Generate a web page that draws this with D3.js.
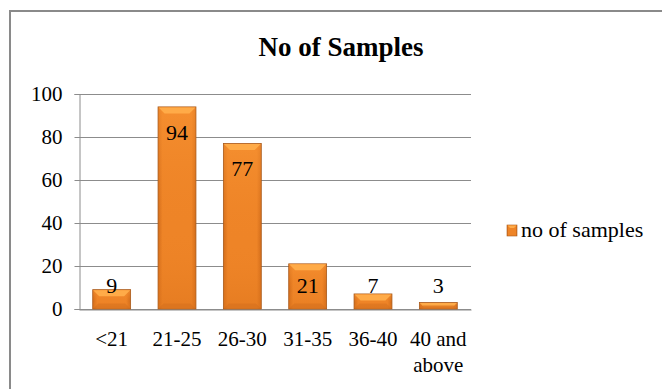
<!DOCTYPE html>
<html>
<head>
<meta charset="utf-8">
<script src="https://cdn.jsdelivr.net/npm/d3@7"></script>
</head>
<body style="margin:0;padding:0;background:#fff">
<svg id="chart" width="662" height="389" style="display:block"></svg>
<script>
// Age groups and number of samples in each
const categories = ["<21", "21-25", "26-30", "31-35", "36-40", "40 and above"];
const samples = [9, 94, 77, 21, 7, 3];
const yTicks = [0, 20, 40, 60, 80, 100];
const seriesName = "no of samples";
const chartTitle = "No of Samples";

const FONT = '"Liberation Serif"';
const svg = d3.select("#chart");
const W = 662, H = 389;
const plot = { left: 79, right: 471, top: 94, bottom: 309 };

// Gradients for the bevelled orange bars
const defs = svg.append("defs");
const side = defs.append("linearGradient").attr("id", "barSide")
  .attr("x1", 0).attr("x2", 1).attr("y1", 0).attr("y2", 0);
side.append("stop").attr("offset", "0").attr("stop-color", "#d26c1a");
side.append("stop").attr("offset", "0.12").attr("stop-color", "#ee8427");
side.append("stop").attr("offset", "0.88").attr("stop-color", "#ee8427");
side.append("stop").attr("offset", "1").attr("stop-color", "#d26c1a");
const vert = defs.append("linearGradient").attr("id", "barVert")
  .attr("x1", 0).attr("x2", 0).attr("y1", 0).attr("y2", 1);
vert.append("stop").attr("offset", "0").attr("stop-color", "#f99534").attr("stop-opacity", 0.6);
vert.append("stop").attr("offset", "0.6").attr("stop-color", "#ef8426").attr("stop-opacity", 0);
vert.append("stop").attr("offset", "1").attr("stop-color", "#dd741c").attr("stop-opacity", 0.5);

// Chart frame
svg.append("rect")
  .attr("x", 10).attr("y", 11)
  .attr("width", W + 20).attr("height", H + 20)
  .attr("fill", "#fff").attr("stroke", "#8a8a8a").attr("stroke-width", 2);

// Title
svg.append("text")
  .attr("x", 341).attr("y", 56)
  .attr("text-anchor", "middle")
  .attr("font-size", 27).attr("font-weight", "bold")
  .style("font-family", FONT)
  .attr("fill", "#000")
  .text(chartTitle);

const x = d3.scaleBand()
  .domain(categories)
  .range([plot.left, plot.right])
  .paddingInner(0.42).paddingOuter(0.21);

const y = d3.scaleLinear()
  .domain([0, 100])
  .range([plot.bottom, plot.top]);

// Horizontal gridlines
svg.append("g")
  .selectAll("line")
  .data(yTicks)
  .join("line")
  .attr("x1", plot.left).attr("x2", plot.right)
  .attr("y1", d => Math.round(y(d)) + 0.5).attr("y2", d => Math.round(y(d)) + 0.5)
  .attr("stroke", "#8c8c8c").attr("stroke-width", 1);

// Y axis
const yAxis = svg.append("g")
  .attr("transform", `translate(${plot.left + 0.5},0)`)
  .call(d3.axisLeft(y).tickValues(yTicks).tickSize(5).tickPadding(12))
  .attr("font-family", null).attr("font-size", null);
yAxis.select(".domain").attr("stroke", "#8c8c8c");
yAxis.selectAll(".tick line").attr("stroke", "#8c8c8c");
yAxis.selectAll(".tick text")
  .attr("font-size", 21)
  .style("font-family", FONT)
  .attr("fill", "#000");

// X axis
const xAxis = svg.append("g")
  .attr("transform", `translate(0,${Math.round(plot.bottom) + 0.5})`)
  .call(d3.axisBottom(x).tickSize(0).tickPadding(0))
  .attr("font-family", null).attr("font-size", null);
xAxis.select(".domain").attr("stroke", "#8c8c8c");
xAxis.selectAll(".tick text").remove();
xAxis.selectAll(".tick").each(function (d) {
  const words = d.split(" ");
  const lines = words.length > 2 ? [words.slice(0, 2).join(" "), words.slice(2).join(" ")] : [d];
  const t = d3.select(this).append("text")
    .attr("text-anchor", "middle")
    .attr("fill", "#000")
    .attr("font-size", 21)
    .style("font-family", FONT);
  lines.forEach((ln, i) => {
    t.append("tspan").attr("x", 0).attr("y", 36 + i * 26).text(ln);
  });
});

// Bars with bevel highlight
const bars = svg.append("g")
  .selectAll("g")
  .data(categories.map((c, i) => ({ c, v: samples[i] })))
  .join("g");

bars.append("rect")
  .attr("x", d => x(d.c))
  .attr("y", d => y(d.v))
  .attr("width", x.bandwidth())
  .attr("height", d => y(0) - y(d.v))
  .attr("fill", "url(#barSide)")
  .attr("stroke", "#a85a1c").attr("stroke-width", 0.8);

bars.append("rect")
  .attr("x", d => x(d.c) + 0.5)
  .attr("y", d => y(d.v) + 0.5)
  .attr("width", x.bandwidth() - 1)
  .attr("height", d => Math.max(0, y(0) - y(d.v) - 1))
  .attr("fill", "url(#barVert)");

// Top bevel facet
bars.append("path")
  .attr("d", d => {
    const x0 = x(d.c) + 0.5, x1 = x(d.c) + x.bandwidth() - 0.5;
    const t = y(d.v) + 0.5;
    const h = Math.min(6, (y(0) - y(d.v)) / 2);
    return `M${x0},${t}L${x1},${t}L${x1 - h},${t + h}L${x0 + h},${t + h}Z`;
  })
  .attr("fill", "#ffab48");

// Bottom bevel facet
bars.append("path")
  .attr("d", d => {
    const x0 = x(d.c) + 0.5, x1 = x(d.c) + x.bandwidth() - 0.5;
    const b = y(0) - 0.5;
    const h = Math.min(5, (y(0) - y(d.v)) / 2);
    return `M${x0},${b}L${x1},${b}L${x1 - h},${b - h}L${x0 + h},${b - h}Z`;
  })
  .attr("fill", "#d06c1c").attr("opacity", 0.45);

// Value labels, inside the bar end, kept above the axis for short bars
bars.append("text")
  .attr("x", d => x(d.c) + x.bandwidth() / 2)
  .attr("y", d => Math.min(y(d.v) + 25, plot.bottom - 24))
  .attr("dy", "0.35em")
  .attr("text-anchor", "middle")
  .attr("fill", "#000")
  .attr("font-size", 22)
  .style("font-family", FONT)
  .text(d => d.v);

// Legend
const lg = svg.append("g").attr("transform", "translate(507,225)");
lg.append("rect").attr("width", 10).attr("height", 11)
  .attr("fill", "url(#barSide)").attr("stroke", "#a85a1c").attr("stroke-width", 0.6);
lg.append("path").attr("d", "M0.5,0.5L9.5,0.5L7,3L3,3Z").attr("fill", "#ffab48");
lg.append("text").attr("x", 14).attr("y", 12)
  .attr("fill", "#000")
  .attr("font-size", 22)
  .style("font-family", FONT)
  .text(seriesName);
</script>
</body>
</html>
